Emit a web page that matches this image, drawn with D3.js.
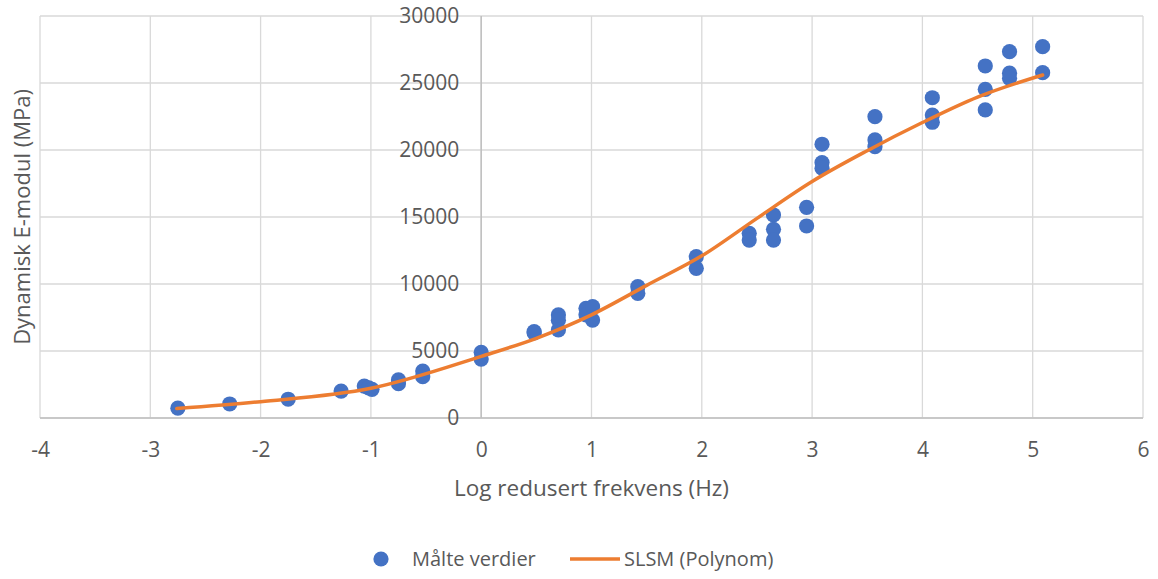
<!DOCTYPE html>
<html>
<head>
<meta charset="utf-8">
<script src="https://cdn.jsdelivr.net/npm/d3@7"></script>
<style>
  html, body { margin: 0; padding: 0; background: #ffffff; }
  svg { display: block; font-family: "Open Sans", "Liberation Sans", sans-serif; }
</style>
</head>
<body>
<svg id="chart" width="1158" height="579"></svg>
<script>
// Measured dynamic modulus vs. log reduced frequency
const measuredLogFreq = [
  -2.75, -2.28, -1.75, -1.27, -1.06, -1.02, -0.99, -0.75, -0.75, -0.53, -0.53,
  0.0, 0.0, 0.48, 0.48, 0.70, 0.70, 0.70, 0.95, 0.95, 1.01, 1.01,
  1.42, 1.42, 1.95, 1.95, 2.43, 2.43, 2.65, 2.65, 2.65, 2.95, 2.95,
  3.09, 3.09, 3.09, 3.57, 3.57, 3.57, 4.09, 4.09, 4.09,
  4.57, 4.57, 4.57, 4.79, 4.79, 4.79, 5.09, 5.09
];
const measuredModulus = [
  730, 1045, 1400, 2010, 2380, 2250, 2140, 2840, 2560, 3500, 3080,
  4900, 4400, 6440, 6350, 7690, 7300, 6570, 8190, 7700, 8310, 7310,
  9800, 9300, 12040, 11170, 13780, 13280, 15150, 14080, 13280, 15720, 14330,
  20430, 19060, 18640, 22490, 20750, 20250, 23900, 22610, 22070,
  26270, 24530, 22990, 27340, 25730, 25350, 27710, 25770
];

// SLSM master curve (polynomial shift)
const modelLogFreq = [-2.76, -2.0, -1.0, 0.0, 0.5, 1.0, 1.5, 2.0, 2.5, 3.0, 3.5, 4.0, 4.5, 5.09];
const modelModulus = [700, 1220, 2220, 4600, 5950, 7700, 9900, 12100, 14900, 17650, 19950, 22050, 23950, 25600];

const xTicks = [-4, -3, -2, -1, 0, 1, 2, 3, 4, 5, 6];
const yTicks = [0, 5000, 10000, 15000, 20000, 25000, 30000];

const seriesNames = ["Målte verdier", "SLSM (Polynom)"];
const xTitle = "Log redusert frekvens (Hz)";
const yTitle = "Dynamisk E-modul (MPa)";

const svg = d3.select("#chart");
const x = d3.scaleLinear().domain([-4, 6]).range([40, 1143]);
const y = d3.scaleLinear().domain([0, 30000]).range([418, 16]);

const textColor = "#595959";
const gridColor = "#D9D9D9";
const axisColor = "#BFBFBF";
const blue = "#4472C4";
const orange = "#ED7D31";
const plain = d => String(d);

// Gridlines
const grid = svg.append("g");
grid.selectAll("line.v").data(xTicks).join("line")
  .attr("x1", d => x(d)).attr("x2", d => x(d))
  .attr("y1", y(0)).attr("y2", y(30000))
  .attr("stroke", gridColor).attr("stroke-width", 1.3);
grid.selectAll("line.h").data(yTicks).join("line")
  .attr("x1", x(-4)).attr("x2", x(6))
  .attr("y1", d => y(d)).attr("y2", d => y(d))
  .attr("stroke", gridColor).attr("stroke-width", 1.3);

// Axes crossing at the origin
svg.append("line")
  .attr("x1", x(-4)).attr("x2", x(6)).attr("y1", y(0)).attr("y2", y(0))
  .attr("stroke", axisColor).attr("stroke-width", 1.5);
svg.append("line")
  .attr("x1", x(0)).attr("x2", x(0)).attr("y1", y(0)).attr("y2", y(30000))
  .attr("stroke", axisColor).attr("stroke-width", 1.5);

// Tick labels
const xAxis = d3.axisBottom(x).tickValues(xTicks).tickSize(0).tickPadding(0).tickFormat(plain);
const gx = svg.append("g").attr("transform", `translate(0, ${y(0) + 32})`).call(xAxis);
gx.select(".domain").remove();
gx.selectAll("text").attr("fill", textColor).attr("font-size", 21)
  .attr("font-family", "Open Sans, sans-serif").attr("dy", "0.35em");

const yAxis = d3.axisLeft(y).tickValues(yTicks).tickSize(0).tickPadding(0).tickFormat(plain);
const gy = svg.append("g").attr("transform", `translate(${x(0) - 22}, 0)`).call(yAxis);
gy.select(".domain").remove();
gy.selectAll("text").attr("fill", textColor).attr("font-size", 21)
  .attr("font-family", "Open Sans, sans-serif");

// Measured points
const points = measuredLogFreq.map((v, i) => ({ x: v, y: measuredModulus[i] }));
svg.append("g").selectAll("circle").data(points).join("circle")
  .attr("cx", d => x(d.x)).attr("cy", d => y(d.y)).attr("r", 7.6)
  .attr("fill", blue);

// Model curve
const curvePts = modelLogFreq.map((v, i) => [v, modelModulus[i]]);
const line = d3.line().x(d => x(d[0])).y(d => y(d[1])).curve(d3.curveMonotoneX);
svg.append("path").datum(curvePts).attr("d", line)
  .attr("fill", "none").attr("stroke", orange).attr("stroke-width", 3.5)
  .attr("stroke-linecap", "round").attr("stroke-linejoin", "round");

// Axis titles
svg.append("text").attr("x", (x(-4) + x(6)) / 2).attr("y", 496)
  .attr("text-anchor", "middle").attr("fill", textColor).attr("font-size", 22.5)
  .text(xTitle);
svg.append("text")
  .attr("transform", `translate(30, ${(y(0) + y(30000)) / 2}) rotate(-90)`)
  .attr("text-anchor", "middle").attr("fill", textColor).attr("font-size", 22)
  .text(yTitle);

// Legend
const lg = svg.append("g");
lg.append("circle").attr("cx", 381).attr("cy", 559).attr("r", 7.6).attr("fill", blue);
lg.append("text").attr("x", 412).attr("y", 559).attr("dy", "0.35em")
  .attr("fill", textColor).attr("font-size", 20).text(seriesNames[0]);
lg.append("line").attr("x1", 570).attr("x2", 620).attr("y1", 559).attr("y2", 559)
  .attr("stroke", orange).attr("stroke-width", 3.5);
lg.append("text").attr("x", 624).attr("y", 559).attr("dy", "0.35em")
  .attr("fill", textColor).attr("font-size", 20).text(seriesNames[1]);
</script>
</body>
</html>
